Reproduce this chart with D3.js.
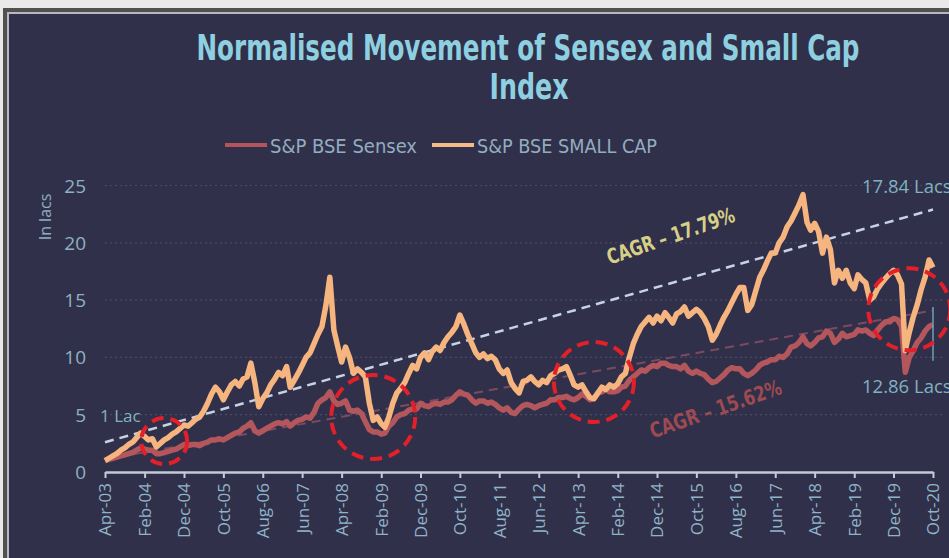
<!DOCTYPE html>
<html>
<head>
<meta charset="utf-8">
<script src="https://cdn.jsdelivr.net/npm/d3@7"></script>
<style>
  body { margin: 0; background: #e9e9e9; }
  svg { display: block; }
</style>
</head>
<body>
<div id="chartArea"></div>
<script>
// monthly values, Apr-03 .. Oct-20 (value of 1 lac invested)
var startMonth = '2003-04';

var smallCap = [
    1.0, 1.2, 1.4, 1.6, 1.9, 2.1, 2.4, 2.6, 3.0, 3.4, 3.1, 2.8,
    2.9, 2.2, 2.5, 2.8, 3.0, 3.3, 3.5, 3.8, 4.1, 4.0, 4.3, 4.6,
    4.8, 5.3, 6.0, 6.8, 7.4, 7.0, 6.3, 7.0, 7.6, 7.9, 7.5, 8.1,
    8.3, 9.5, 7.8, 5.7, 6.4, 6.9, 7.6, 8.1, 8.7, 8.4, 9.2, 7.4,
    8.0, 8.6, 9.3, 10.0, 10.4, 11.2, 12.0, 12.7, 14.5, 17.0, 12.4, 11.0,
    9.6, 10.9, 10.0, 8.6, 9.0, 8.7, 8.3, 6.0, 4.5, 4.8, 4.2, 3.9,
    4.8, 6.0, 6.9, 7.3, 7.8, 8.6, 9.3, 9.0, 10.0, 10.4, 9.8, 10.5,
    10.9, 10.6, 11.3, 11.8, 12.2, 12.7, 13.7, 12.9, 12.0, 11.2, 10.4, 10.0,
    10.3, 9.9, 10.1, 9.8, 9.0, 8.6, 8.9, 7.8, 7.3, 6.9, 7.9, 8.0,
    8.3, 7.9, 7.6, 8.0, 7.8, 8.4, 8.6, 8.9, 9.0, 9.2, 8.4, 7.6,
    7.4, 7.6, 7.0, 6.5, 6.4, 6.9, 7.4, 7.2, 7.6, 7.4, 7.7, 8.3,
    8.6, 10.0, 11.2, 12.0, 12.7, 13.1, 13.5, 13.0, 13.6, 13.2, 13.9, 13.5,
    13.0, 13.8, 14.0, 14.4, 13.6, 13.9, 14.2, 13.9, 13.4, 12.7, 11.5, 12.0,
    12.8, 13.5, 14.1, 14.8, 15.5, 16.1, 16.1, 14.1, 14.6, 15.8, 17.0, 17.6,
    18.4, 19.1, 19.1, 20.0, 20.5, 21.4, 21.9, 22.6, 23.3, 24.2, 21.8, 21.1,
    21.7, 21.0, 19.1, 20.5, 19.4, 16.5, 17.6, 16.9, 17.6, 16.5, 16.0, 17.2,
    16.8, 16.5, 15.0, 15.3, 16.0, 16.5, 16.9, 17.3, 17.6, 17.2, 16.4, 10.6,
    12.2, 13.5, 14.6, 15.9, 17.0, 18.5, 17.84
];

var sensex = [
    1.0, 1.1, 1.2, 1.3, 1.4, 1.5, 1.6, 1.7, 1.9, 2.1, 2.0, 1.9,
    1.9, 1.6, 1.6, 1.7, 1.8, 1.9, 2.0, 2.2, 2.4, 2.3, 2.4, 2.4,
    2.3, 2.5, 2.6, 2.8, 2.8, 2.9, 2.8, 3.0, 3.2, 3.4, 3.5, 3.8,
    4.0, 4.3, 3.6, 3.4, 3.6, 3.8, 4.0, 4.2, 4.3, 4.2, 4.4, 4.0,
    4.3, 4.5, 4.6, 4.8, 4.7, 5.2, 6.0, 6.3, 6.5, 7.0, 6.2, 5.9,
    6.0, 6.2, 5.4, 5.3, 5.4, 5.1, 4.4, 3.7, 3.5, 3.5, 3.3, 3.4,
    4.0, 4.3, 4.8, 5.0, 5.1, 5.4, 5.5, 5.5, 6.0, 5.8, 5.7, 5.9,
    6.0, 5.9, 6.1, 6.1, 6.3, 6.7, 7.0, 6.8, 6.7, 6.3, 6.0, 6.2,
    6.2, 6.0, 6.1, 5.9, 5.6, 5.4, 5.6, 5.2, 5.1, 5.5, 5.8, 5.9,
    5.8, 5.6, 5.8, 5.9, 6.0, 6.3, 6.3, 6.5, 6.5, 6.6, 6.4, 6.3,
    6.5, 6.8, 6.6, 6.3, 6.4, 6.9, 7.0, 7.2, 7.0, 7.0, 7.1, 7.4,
    7.5, 8.0, 8.3, 8.6, 8.9, 8.8, 9.1, 9.3, 9.2, 9.5, 9.5, 9.3,
    9.2, 9.2, 9.0, 9.3, 8.8, 8.6, 8.8, 8.6, 8.5, 8.1, 7.8, 7.9,
    8.2, 8.5, 8.9, 9.1, 9.0, 9.0, 8.6, 8.4, 8.6, 8.9, 9.3, 9.5,
    9.6, 9.8, 9.8, 10.1, 10.0, 10.3, 10.9, 11.0, 11.3, 11.8, 11.2, 11.0,
    11.3, 11.7, 11.8, 12.3, 12.1, 11.3, 11.6, 12.1, 11.8, 11.9, 12.0, 12.4,
    12.3, 12.4, 12.1, 11.9, 12.4, 12.8, 13.1, 13.1, 13.4, 13.3, 12.7, 8.7,
    10.0, 10.6, 11.3, 11.7, 12.3, 12.7, 12.86
];

// dashed CAGR trend lines: [start value, end value]
var trendSmallCap = [2.6, 22.9];
var trendSensex = [1.1, 14.1];

var tickLabels = ['Apr-03', 'Feb-04', 'Dec-04', 'Oct-05', 'Aug-06', 'Jun-07', 'Apr-08',
    'Feb-09', 'Dec-09', 'Oct-10', 'Aug-11', 'Jun-12', 'Apr-13', 'Feb-14', 'Dec-14',
    'Oct-15', 'Aug-16', 'Jun-17', 'Apr-18', 'Feb-19', 'Dec-19', 'Oct-20'];
var yTicks = [0, 5, 10, 15, 20, 25];

// red highlight circles: month, value, radius(px)
var circleMonths = ['2004-07', '2008-12', '2013-08', '2020-04'];
var circleValues = [2.7, 4.8, 7.85, 14.2];
var circleRadius = [23, 42, 40, 41];

var W = 949, H = 558;
var condensed = '"Liberation Sans Narrow", "DejaVu Sans Condensed", Roboto, sans-serif';
var plain = '"Open Sans", "Noto Sans", sans-serif';

var parseMonth = d3.timeParse('%Y-%m');
var parseTick = d3.timeParse('%b-%y');
var start = parseMonth(startMonth);

var dates = smallCap.map(function (d, i) { return d3.timeMonth.offset(start, i); });

var svg = d3.select('#chartArea').append('svg')
    .attr('width', W)
    .attr('height', H);

// frame
svg.append('rect').attr('x', 3).attr('y', 8).attr('width', W).attr('height', H).attr('fill', '#505050');
svg.append('rect').attr('x', 7).attr('y', 12).attr('width', W).attr('height', H).attr('fill', '#b8b8c0');
svg.append('rect').attr('x', 9).attr('y', 14).attr('width', W).attr('height', H).attr('fill', '#31304a');

var xScale = d3.scaleTime()
    .domain([start, dates[dates.length - 1]])
    .range([105, 933]);

var yScale = d3.scaleLinear()
    .domain([0, 25])
    .range([472, 185.5]);

// title
var title = svg.append('g').attr('fill', '#8ed0e0')
    .style('font-family', condensed).style('font-size', '35px').style('font-weight', 'bold');
title.append('text').attr('x', 528).attr('y', 60).attr('text-anchor', 'middle')
    .attr('textLength', 663).attr('lengthAdjust', 'spacingAndGlyphs')
    .text('Normalised Movement of Sensex and Small Cap');
title.append('text').attr('x', 529).attr('y', 99).attr('text-anchor', 'middle')
    .attr('textLength', 79).attr('lengthAdjust', 'spacingAndGlyphs')
    .text('Index');

// legend
var legend = [
    {name: 'S&P BSE Sensex', color: '#b4545a', x: 225, len: 147},
    {name: 'S&P BSE SMALL CAP', color: '#f8b985', x: 432, len: 180}
];
var lg = svg.selectAll('.legend').data(legend).enter().append('g').attr('class', 'legend');
lg.append('line')
    .attr('x1', function (d) { return d.x; })
    .attr('x2', function (d) { return d.x + 42; })
    .attr('y1', 145).attr('y2', 145)
    .attr('stroke', function (d) { return d.color; })
    .attr('stroke-width', 4);
lg.append('text')
    .attr('x', function (d) { return d.x + 45; })
    .attr('y', 153)
    .attr('textLength', function (d) { return d.len; })
    .attr('lengthAdjust', 'spacingAndGlyphs')
    .attr('fill', '#93adc0')
    .style('font-family', condensed).style('font-size', '20px')
    .text(function (d) { return d.name; });

// gridlines
svg.selectAll('.grid').data(yTicks.slice(1)).enter().append('line')
    .attr('class', 'grid')
    .attr('x1', 105).attr('x2', 945)
    .attr('y1', function (d) { return yScale(d); })
    .attr('y2', function (d) { return yScale(d); })
    .attr('stroke', '#4b4a66').attr('stroke-width', 1.2)
    .attr('stroke-dasharray', '2,3');

// y tick labels
svg.selectAll('.ytick').data(yTicks).enter().append('text')
    .attr('class', 'ytick')
    .attr('x', 86)
    .attr('y', function (d) { return yScale(d) + 7; })
    .attr('text-anchor', 'end')
    .attr('fill', '#8fb0c2')
    .style('font-family', plain).style('font-size', '19px')
    .text(function (d) { return d; });

svg.append('text')
    .attr('transform', 'translate(51,217) rotate(-90)')
    .attr('text-anchor', 'middle')
    .attr('fill', '#8fb0c2')
    .style('font-family', plain).style('font-size', '16px')
    .text('In lacs');

// x axis
var xAxis = d3.axisBottom(xScale)
    .tickValues(tickLabels.map(function (t) { return parseTick(t); }))
    .tickFormat(d3.timeFormat('%b-%y'))
    .tickSize(6)
    .tickSizeOuter(0);

var gx = svg.append('g')
    .attr('transform', 'translate(0,' + 472 + ')')
    .call(xAxis);
gx.select('.domain').attr('stroke', '#c3cad8').attr('stroke-width', 2.5);
gx.selectAll('.tick line').attr('stroke', '#c3cad8').attr('stroke-width', 2);
gx.selectAll('.tick text')
    .attr('fill', '#8fb4c8')
    .style('font-family', plain).style('font-size', '17px')
    .attr('transform', 'rotate(-90)')
    .attr('text-anchor', 'end')
    .attr('x', -11).attr('y', 0).attr('dy', '0.35em');

// trend lines
function trendLine(vals, color, w) {
    svg.append('line')
        .attr('x1', xScale(dates[0])).attr('x2', xScale(dates[dates.length - 1]))
        .attr('y1', yScale(vals[0])).attr('y2', yScale(vals[1]))
        .attr('stroke', color).attr('stroke-width', w)
        .attr('stroke-dasharray', '9,6');
}
trendLine(trendSensex, '#7c4a60', 2);
trendLine(trendSmallCap, '#c6d3e6', 2.5);

// series
var line = d3.line()
    .x(function (d, i) { return xScale(dates[i]); })
    .y(function (d) { return yScale(d); });

svg.append('path').datum(sensex)
    .attr('d', line)
    .attr('fill', 'none')
    .attr('stroke', '#b4575c')
    .attr('stroke-width', 5.5)
    .attr('stroke-linejoin', 'round');

svg.append('path').datum(smallCap)
    .attr('d', line)
    .attr('fill', 'none')
    .attr('stroke', '#f6b47f')
    .attr('stroke-width', 5.5)
    .attr('stroke-linejoin', 'round');

// thin marker near the end
svg.append('line')
    .attr('x1', 933).attr('x2', 933)
    .attr('y1', yScale(14.4)).attr('y2', yScale(9.7))
    .attr('stroke', '#6f9fb8').attr('stroke-width', 1.5);

// highlight circles
svg.selectAll('.hl').data(circleMonths).enter().append('circle')
    .attr('class', 'hl')
    .attr('cx', function (d) { return xScale(parseMonth(d)); })
    .attr('cy', function (d, i) { return yScale(circleValues[i]); })
    .attr('r', function (d, i) { return circleRadius[i]; })
    .attr('fill', 'none')
    .attr('stroke', '#e3202a')
    .attr('stroke-width', 4)
    .attr('stroke-dasharray', '12,7');

// annotations
function note(txt, x, y, color, size) {
    return svg.append('text').attr('x', x).attr('y', y)
        .attr('fill', color)
        .style('font-family', plain).style('font-size', size + 'px')
        .text(txt);
}
note('1 Lac', 100, 422, '#7fb3c0', 17);
note('17.84 Lacs', 862, 193, '#7fb3c0', 18.5);
note('12.86 Lacs', 862, 393, '#7fb3c0', 18.5);

svg.append('text')
    .attr('transform', 'translate(673,243) rotate(-19)')
    .attr('text-anchor', 'middle')
    .attr('textLength', 134).attr('lengthAdjust', 'spacingAndGlyphs')
    .attr('fill', '#d6cf88')
    .style('font-family', condensed).style('font-size', '21px').style('font-weight', 'bold')
    .text('CAGR \u2013 17.79%');

svg.append('text')
    .attr('transform', 'translate(718,416) rotate(-19)')
    .attr('text-anchor', 'middle')
    .attr('textLength', 138).attr('lengthAdjust', 'spacingAndGlyphs')
    .attr('fill', '#9d4a52')
    .style('font-family', condensed).style('font-size', '21px').style('font-weight', 'bold')
    .text('CAGR \u2013 15.62%');
</script>
</body>
</html>
